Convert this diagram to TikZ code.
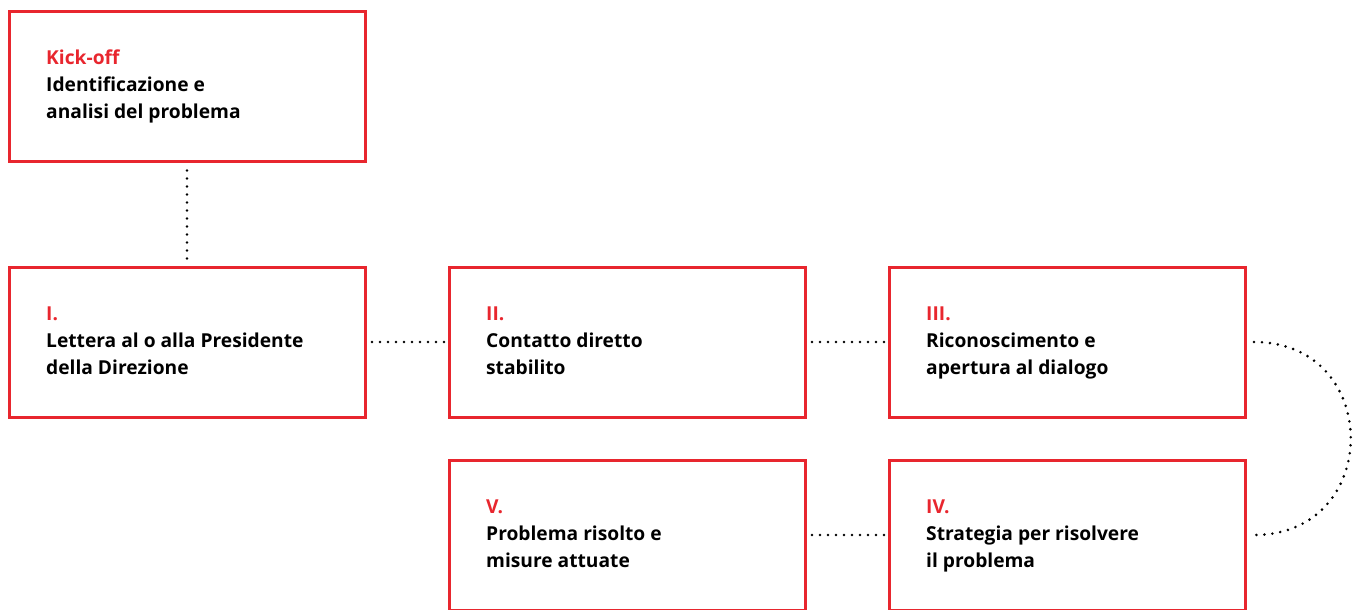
\documentclass[tikz,border=0pt]{standalone}
\usepackage{fontspec}
\setmainfont{Open Sans}
\definecolor{boxred}{RGB}{232,38,46}
\tikzset{
  x=1pt, y=-1pt,
  stepbox/.style={draw=boxred, line width=3pt, minimum width=356pt, minimum height=150pt, inner sep=0pt, outer sep=0pt},
  lbl/.style={anchor=base west, align=left, inner sep=0pt, font=\fontsize{19.2}{27}\selectfont\bfseries, text=black},
  dots/.style={line width=2.9pt, line cap=round, dash pattern=on 0pt off 8pt, black},
}
\begin{document}
\begin{tikzpicture}
\useasboundingbox (0,0) rectangle (1355,610);
\node[stepbox] (k)   at (187,86.5) {};
\node[stepbox] (s1)  at (187,342) {};
\node[stepbox] (s2)  at (627,342) {};
\node[stepbox] (s3)  at (1067,342) {};
\node[stepbox] (s5)  at (627,535) {};
\node[stepbox] (s4)  at (1067,535) {};

\node[lbl] (tk) at ([shift={(37,32)}]k.west) {\textcolor{boxred}{Kick-off}\\Identificazione e\\analisi del problema};
\node[lbl] (t1) at ([shift={(37,32)}]s1.west) {\textcolor{boxred}{I.}\\Lettera al o alla Presidente\\della Direzione};
\node[lbl] (t2) at ([shift={(37,32)}]s2.west) {\textcolor{boxred}{II.}\\Contatto diretto\\stabilito};
\node[lbl] (t3) at ([shift={(37,32)}]s3.west) {\textcolor{boxred}{III.}\\Riconoscimento e\\apertura al dialogo};
\node[lbl] (t5) at ([shift={(37,32)}]s5.west) {\textcolor{boxred}{V.}\\Problema risolto e\\misure attuate};
\node[lbl] (t4) at ([shift={(37,32)}]s4.west) {\textcolor{boxred}{IV.}\\Strategia per risolvere\\il problema};

\draw[dots, shorten <=9pt, shorten >=8pt] (k.south) -- (s1.north);
\draw[dots, shorten <=7pt, shorten >=5pt] (s1.east) -- (s2.west);
\draw[dots, shorten <=7pt, shorten >=5pt] (s2.east) -- (s3.west);
\draw[dots, shorten <=7pt, shorten >=5pt] (s5.east) -- (s4.west);
\coordinate (a3) at ([xshift=9pt]s3.east);
\coordinate (a4) at ([xshift=9pt]s4.east);
\draw[dots] (a3) .. controls +(129,0) and +(129,0) .. (a4);
\end{tikzpicture}
\end{document}
